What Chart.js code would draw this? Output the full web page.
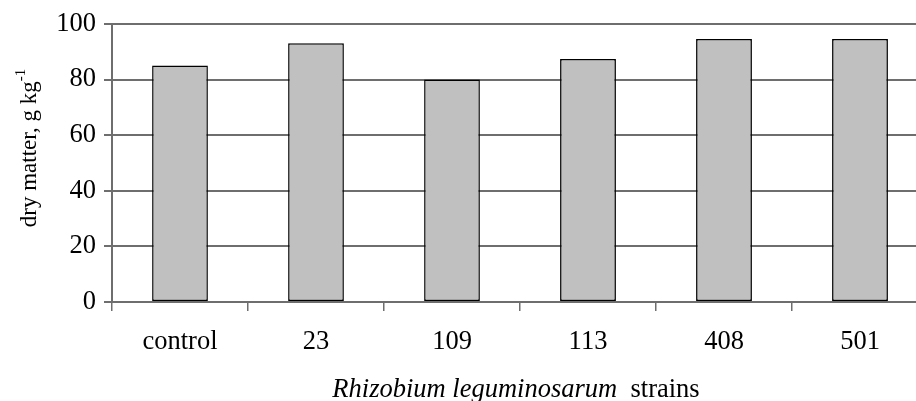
<!DOCTYPE html>
<html>
<head>
<meta charset="utf-8">
<script src="https://cdn.jsdelivr.net/npm/chart.js@4"></script>
<style>
  html, body { margin: 0; padding: 0; background: #fff; overflow: hidden; }
  #wrap { width: 940px; height: 401px; position: relative; }
</style>
</head>
<body>
<div id="wrap"><canvas id="chart"></canvas></div>
<script>
// datos
const strains = ["control", "23", "109", "113", "408", "501"]
const dryMatter = [85, 93, 80, 87.4, 94.6, 94.6]
const yTicks = [0, 20, 40, 60, 80, 100]

const serif = "'Liberation Serif', 'Times New Roman', serif"

// titulos de ejes con cursiva y superindice
const axisTitles = {
  id: "axisTitles",
  afterDraw(chart) {
    const ctx = chart.ctx
    ctx.save()
    ctx.fillStyle = "#000"
    ctx.textBaseline = "alphabetic"

    // eje x
    const italic = "Rhizobium leguminosarum"
    const normal = "  strains"
    ctx.font = "italic 26.5px " + serif
    const w1 = ctx.measureText(italic).width
    ctx.font = "26.5px " + serif
    const w2 = ctx.measureText(normal).width
    const x = 516 - (w1 + w2) / 2
    ctx.textAlign = "left"
    ctx.font = "italic 26.5px " + serif
    ctx.fillText(italic, x, 397)
    ctx.font = "26.5px " + serif
    ctx.fillText(normal, x + w1, 397)

    // eje y
    const main = "dry matter, g kg"
    const sup = "-1"
    ctx.font = "23px " + serif
    const m1 = ctx.measureText(main).width
    ctx.font = "15px " + serif
    const m2 = ctx.measureText(sup).width
    ctx.translate(36, 148)
    ctx.rotate(-Math.PI / 2)
    const start = -(m1 + m2) / 2
    ctx.font = "23px " + serif
    ctx.fillText(main, start, 0)
    ctx.font = "15px " + serif
    ctx.fillText(sup, start + m1, -11)
    ctx.restore()
  },
}

new Chart(document.getElementById("chart"), {
  type: "bar",
  data: {
    labels: strains,
    datasets: [
      {
        data: dryMatter,
        backgroundColor: "#c0c0c0",
        borderColor: "#000",
        borderWidth: 1.5,
        borderSkipped: false,
        categoryPercentage: 1,
        barPercentage: 0.41,
      },
    ],
  },
  options: {
    responsive: true,
    maintainAspectRatio: false,
    animation: false,
    layout: { padding: { top: 23, right: 12, left: 0, bottom: 0 } },
    plugins: { legend: { display: false }, tooltip: { enabled: false } },
    scales: {
      x: {
        afterFit: (s) => { s.height = 99 },
        grid: { offset: true, drawOnChartArea: false, drawTicks: true, tickLength: 9, color: "#6e6e6e", lineWidth: 1.5 },
        border: { display: true, color: "#6e6e6e", width: 2 },
        ticks: { color: "#000", padding: 15, font: { family: serif, size: 26.5 } },
      },
      y: {
        min: 0,
        max: 100,
        afterFit: (s) => { s.width = 112 },
        afterBuildTicks: (s) => { s.ticks = yTicks.map((v) => ({ value: v })) },
        grid: { color: "#6e6e6e", lineWidth: 2, tickLength: 8 },
        border: { display: true, color: "#6e6e6e", width: 2 },
        ticks: { color: "#000", padding: 8, font: { family: serif, size: 26.5 } },
      },
    },
  },
  plugins: [axisTitles],
})
</script>
</body>
</html>
